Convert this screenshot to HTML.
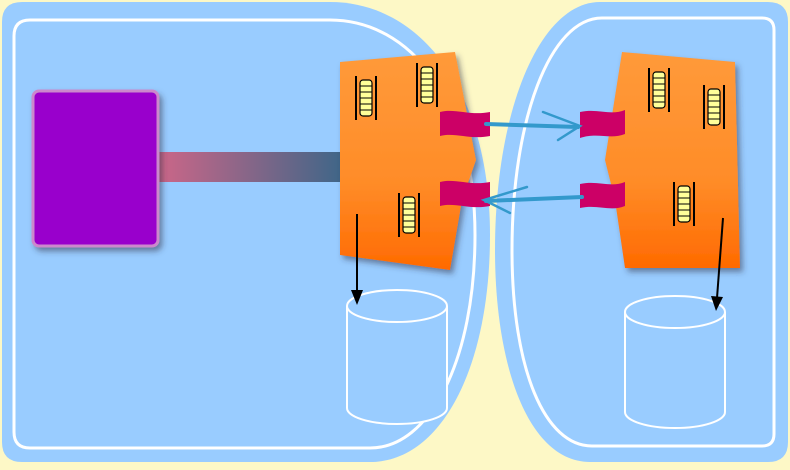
<!DOCTYPE html>
<html><head><meta charset="utf-8"><style>html,body{margin:0;padding:0;background:#fdf8c6}svg{display:block}</style></head>
<body>
<svg width="790" height="470" viewBox="0 0 790 470">
<defs>
<linearGradient id="og" x1="0" y1="0" x2="0" y2="1"><stop offset="0" stop-color="#ff9a3a"/><stop offset="0.6" stop-color="#ff8c28"/><stop offset="1" stop-color="#ff6a00"/></linearGradient>
<linearGradient id="bar" x1="0" y1="0" x2="1" y2="0"><stop offset="0" stop-color="#cc6688"/><stop offset="1" stop-color="#3f6688"/></linearGradient>
<filter id="sh" x="-20%" y="-20%" width="140%" height="140%"><feDropShadow dx="3" dy="4" stdDeviation="3" flood-color="#334" flood-opacity="0.5"/></filter>
<g id="ladder"><line x1="0" y1="0" x2="0" y2="44" stroke="#000" stroke-width="2"/><line x1="20" y1="0" x2="20" y2="44" stroke="#000" stroke-width="2"/><rect x="4" y="4" width="12" height="36" rx="3" fill="#ffff99" stroke="#000" stroke-width="1.2"/><path d="M4 10H16M4 16H16M4 22H16M4 28H16M4 34H16" stroke="#000" stroke-width="1"/></g>
</defs>
<rect width="790" height="470" fill="#fdf8c6"/>
<path d="M22 2 H330 C420 2 490 90 490 235 C490 370 440 462 370 462 H22 Q2 462 2 442 V22 Q2 2 22 2Z" fill="#99ccff"/>
<path d="M30 20 H330 C410 20 475 100 475 235 C475 360 430 448 370 448 H30 Q14 448 14 432 V36 Q14 20 30 20Z" fill="none" stroke="#fff" stroke-width="3"/>
<path d="M600 2 H768 Q788 2 788 22 V442 Q788 462 768 462 H590 C530 462 495 370 495 250 C495 110 540 2 600 2Z" fill="#99ccff"/>
<path d="M602 18 H762 Q774 18 774 30 V434 Q774 446 762 446 H592 C545 446 512 370 512 250 C512 120 550 18 602 18Z" fill="none" stroke="#fff" stroke-width="3"/>
<rect x="158" y="152" width="184" height="30" fill="url(#bar)"/>
<rect x="33" y="91" width="125" height="155" rx="6" fill="#9900cc" stroke="#cc88cc" stroke-width="3" filter="url(#sh)"/>
<polygon points="340,62 455,52 476,160 462,200 450,270 340,255" fill="url(#og)" filter="url(#sh)"/>
<polygon points="622,52 735,62 740,268 625,268 615,200 605,160" fill="url(#og)" filter="url(#sh)"/>
<use href="#ladder" x="356" y="76"/><use href="#ladder" x="417" y="63"/><use href="#ladder" x="399" y="193"/>
<use href="#ladder" x="649" y="68"/><use href="#ladder" x="704" y="85"/><use href="#ladder" x="674" y="182"/>
<g fill="#cc0066">
<path d="M440 112 C455 108 470 116 490 112 V136 C470 140 455 132 440 136Z"/>
<path d="M440 182 C455 178 470 186 490 182 V206 C470 210 455 202 440 206Z"/>
<path d="M580 112 C598 108 610 116 625 110 V134 C610 140 598 132 580 138Z"/>
<path d="M580 184 C598 180 610 188 625 182 V206 C610 212 598 204 580 208Z"/>
</g>
<g stroke="#3399cc" stroke-width="4" fill="none" stroke-linecap="round">
<path d="M486 124 L578 127"/><path d="M543 112 L580 126 L558 140" stroke-width="2.5"/>
<path d="M582 197 L486 201"/><path d="M527 187 L484 200 L510 213" stroke-width="2.5"/>
</g>
<g>
<path d="M347 306 V408 A50 16 0 0 0 447 408 V306" fill="#99ccff" stroke="#fff" stroke-width="2"/>
<ellipse cx="397" cy="306" rx="50" ry="16" fill="#99ccff" stroke="#fff" stroke-width="2"/>
</g>
<g>
<path d="M625 312 V412 A50 16 0 0 0 725 412 V312" fill="#99ccff" stroke="#fff" stroke-width="2"/>
<ellipse cx="675" cy="312" rx="50" ry="16" fill="#99ccff" stroke="#fff" stroke-width="2"/>
</g>
<g stroke="#000" stroke-width="2" fill="#000">
<line x1="357" y1="214" x2="357" y2="292"/><polygon points="351,290 363,290 357,305" stroke="none"/>
<line x1="723" y1="218" x2="717" y2="298"/><polygon points="711,296 723,297 716,311" stroke="none"/>
</g>
</svg>
</body></html>
